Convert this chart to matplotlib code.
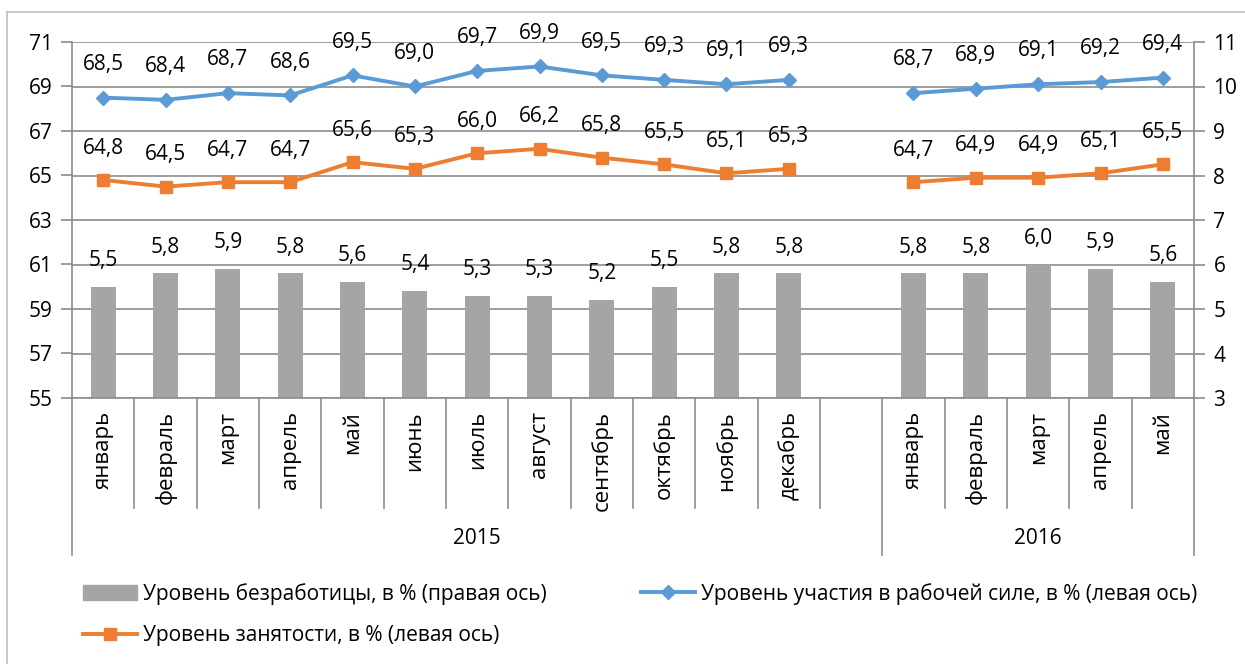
import numpy as np
import matplotlib
matplotlib.use("Agg")
import matplotlib.pyplot as plt
from matplotlib.lines import Line2D
from matplotlib.patches import Patch

plt.rcParams['font.family'] = ['Open Sans', 'DejaVu Sans']

months_2015 = ["январь", "февраль", "март", "апрель", "май", "июнь", "июль",
               "август", "сентябрь", "октябрь", "ноябрь", "декабрь"]
months_2016 = ["январь", "февраль", "март", "апрель", "май"]
years = ["2015", "2016"]

unemp_2015 = [5.5, 5.8, 5.9, 5.8, 5.6, 5.4, 5.3, 5.3, 5.2, 5.5, 5.8, 5.8]
unemp_2016 = [5.8, 5.8, 6.0, 5.9, 5.6]
part_2015 = [68.5, 68.4, 68.7, 68.6, 69.5, 69.0, 69.7, 69.9, 69.5, 69.3, 69.1, 69.3]
part_2016 = [68.7, 68.9, 69.1, 69.2, 69.4]
empl_2015 = [64.8, 64.5, 64.7, 64.7, 65.6, 65.3, 66.0, 66.2, 65.8, 65.5, 65.1, 65.3]
empl_2016 = [64.7, 64.9, 64.9, 65.1, 65.5]

GRAY = "#A5A5A5"
BLUE = "#5B9BD5"
ORANGE = "#ED7D31"
LINEC = "#8C8C8C"
FS = 15

# positions: 12 months of 2015, one empty slot, 5 months of 2016
x15 = np.arange(len(months_2015))
x16 = np.arange(len(months_2016)) + len(months_2015) + 1
nslots = len(months_2015) + 1 + len(months_2016)

fig = plt.figure(figsize=(12.45, 6.64), dpi=100)
ax2 = fig.add_axes([72 / 1245, 1 - 398 / 664, (1194 - 72) / 1245, 356 / 664])
ax = ax2.twinx()
ax.set_zorder(ax2.get_zorder() + 1)
ax.patch.set_visible(False)

# outer frame of the chart area
fig.add_artist(Line2D([7 / 1245, 7 / 1245], [0, 1 - 12 / 664], transform=fig.transFigure, color="#BFBFBF", lw=1.2))
fig.add_artist(Line2D([7 / 1245, 1], [1 - 12 / 664, 1 - 12 / 664], transform=fig.transFigure, color="#BFBFBF", lw=1.2))

# bars on right scale (ax2 is the lower axes, its ticks moved right)
ax2.bar(x15, unemp_2015, width=0.4, color=GRAY)
ax2.bar(x16, unemp_2016, width=0.4, color=GRAY)
ax2.set_ylim(3, 11)
ax2.set_yticks(range(3, 12))
ax2.yaxis.tick_right()
ax2.grid(axis='y', color=LINEC, lw=1.2)
ax2.set_axisbelow(True)
for xs, vals in [(x15, unemp_2015), (x16, unemp_2016)]:
    for xi, v in zip(xs, vals):
        ax2.annotate(f"{v:.1f}".replace(".", ","), (xi, v), xytext=(0, 19), textcoords="offset points",
                     ha="center", va="center", fontsize=FS)

# lines on left scale
ax.yaxis.tick_left()
for xs, vals in [(x15, part_2015), (x16, part_2016)]:
    ax.plot(xs, vals, color=BLUE, lw=2.8, marker="D", ms=7)
    for xi, v in zip(xs, vals):
        ax.annotate(f"{v:.1f}".replace(".", ","), (xi, v), xytext=(0, 24), textcoords="offset points",
                    ha="center", va="center", fontsize=FS)
for xs, vals in [(x15, empl_2015), (x16, empl_2016)]:
    ax.plot(xs, vals, color=ORANGE, lw=2.8, marker="s", ms=9)
    for xi, v in zip(xs, vals):
        ax.annotate(f"{v:.1f}".replace(".", ","), (xi, v), xytext=(0, 23), textcoords="offset points",
                    ha="center", va="center", fontsize=FS)
ax.set_ylim(55, 71)
ax.set_yticks(range(55, 72, 2))
ax.set_xlim(-0.5, nslots - 0.5)
ax2.set_xlim(-0.5, nslots - 0.5)

for a in (ax, ax2):
    a.set_xticks([])
    for s in a.spines.values():
        s.set_visible(False)
    a.tick_params(axis='y', labelsize=FS, length=8, color=LINEC, width=1.2, pad=6)
ax.spines['left'].set_visible(True)
ax.spines['left'].set_color(LINEC)
ax.spines['left'].set_linewidth(1.2)
ax2.spines['right'].set_visible(True)
ax2.spines['right'].set_color(LINEC)
ax2.spines['right'].set_linewidth(1.2)
ax2.spines['bottom'].set_visible(True)
ax2.spines['bottom'].set_color(LINEC)
ax2.spines['bottom'].set_linewidth(1.2)

# multi-level category axis
tr = ax.get_xaxis_transform()
month_depth = -(508 - 398) / 356
group_depth = -(555 - 398) / 356
for k in range(nslots + 1):
    xb = k - 0.5
    depth = group_depth if k in (0, len(months_2015) + 1, nslots) else month_depth
    ax.plot([xb, xb], [0, depth], transform=tr, color=LINEC, lw=1.2, clip_on=False)
for xs, names in [(x15, months_2015), (x16, months_2016)]:
    for xi, name in zip(xs, names):
        ax.text(xi, -(411 - 398) / 356, name, transform=tr, rotation=90, ha="center", va="top", fontsize=FS + 1)
year_centers = [(-0.5 + len(months_2015) + 0.5) / 2, (len(months_2015) + 0.5 + nslots - 0.5) / 2]
for xc, yr in zip(year_centers, years):
    ax.text(xc, -(538 - 398) / 356, yr, transform=tr, ha="center", va="center", fontsize=FS)

handles = [Patch(color=GRAY, label="Уровень безработицы, в % (правая ось)"),
           Line2D([], [], color=ORANGE, lw=2.8, marker="s", ms=9, label="Уровень занятости, в % (левая ось)"),
           Line2D([], [], color=BLUE, lw=2.8, marker="D", ms=7, label="Уровень участия в рабочей силе, в % (левая ось)")]
fig.legend(handles=handles, ncol=2, loc="upper left", bbox_to_anchor=(64 / 1245, 1 - 564 / 664),
           frameon=False, fontsize=FS, handlelength=2.6, handletextpad=0.3, columnspacing=4.5,
           labelspacing=1.0)

fig.savefig("out.png", dpi=100)
